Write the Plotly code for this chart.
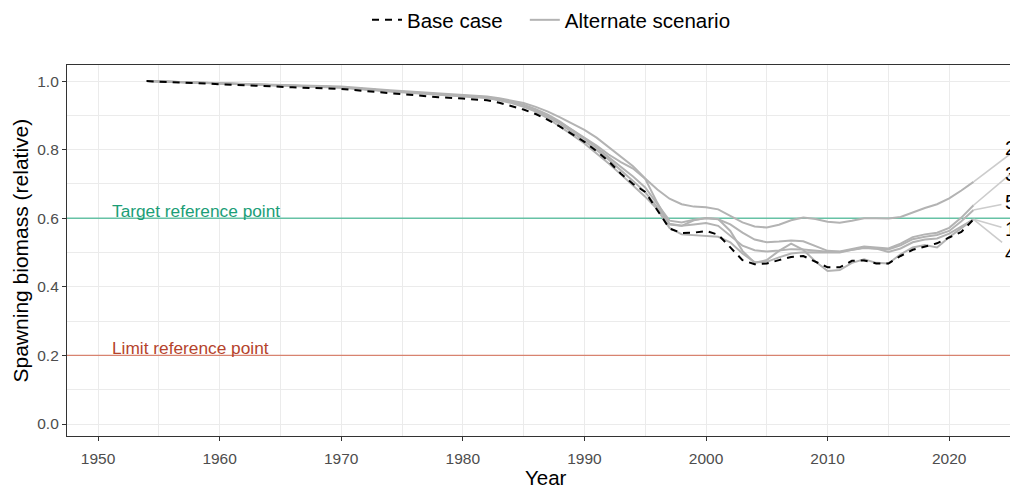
import plotly.graph_objects as go

years = [1954, 1960, 1966, 1970, 1974, 1978, 1980] + list(range(1982, 2023))

base_case = [1.000, 0.990, 0.982, 0.977, 0.964, 0.953, 0.949,
             0.944, 0.937, 0.928, 0.917, 0.904, 0.887, 0.867, 0.845, 0.823, 0.796,
             0.766, 0.730, 0.700, 0.677, 0.625, 0.570, 0.557, 0.558, 0.563, 0.552,
             0.515, 0.478, 0.466, 0.468, 0.478, 0.487, 0.490, 0.474, 0.457, 0.457,
             0.476, 0.477, 0.468, 0.468, 0.490, 0.508, 0.518, 0.527, 0.544, 0.560,
             0.597]

scenario_names = ["1", "2", "3", "4", "5"]
scenario_values = {
    "1": [1.000, 0.993, 0.988, 0.982, 0.971, 0.961, 0.958,
          0.952, 0.946, 0.939, 0.929, 0.916, 0.899, 0.880, 0.858, 0.836, 0.812,
          0.786, 0.764, 0.745, 0.715, 0.645, 0.582, 0.578, 0.594, 0.601, 0.598,
          0.563, 0.505, 0.470, 0.478, 0.505, 0.526, 0.508, 0.474, 0.446, 0.449,
          0.470, 0.480, 0.470, 0.468, 0.495, 0.515, 0.522, 0.515, 0.545, 0.570,
          0.597],
    "2": [1.000, 0.994, 0.989, 0.984, 0.973, 0.963, 0.960,
          0.955, 0.950, 0.944, 0.936, 0.925, 0.911, 0.894, 0.876, 0.858, 0.835,
          0.808, 0.781, 0.752, 0.716, 0.684, 0.657, 0.641, 0.634, 0.632, 0.626,
          0.608, 0.588, 0.576, 0.573, 0.581, 0.594, 0.602, 0.598, 0.590, 0.587,
          0.593, 0.600, 0.600, 0.599, 0.604, 0.618, 0.630, 0.641, 0.658, 0.681,
          0.706],
    "3": [1.000, 0.993, 0.988, 0.982, 0.971, 0.961, 0.958,
          0.953, 0.947, 0.940, 0.931, 0.918, 0.902, 0.882, 0.858, 0.832, 0.806,
          0.778, 0.750, 0.722, 0.690, 0.640, 0.593, 0.588, 0.596, 0.600, 0.597,
          0.582, 0.558, 0.538, 0.530, 0.532, 0.535, 0.533, 0.518, 0.505, 0.503,
          0.511, 0.518, 0.515, 0.512, 0.526, 0.545, 0.553, 0.558, 0.572, 0.602,
          0.638],
    "4": [1.000, 0.993, 0.987, 0.981, 0.970, 0.960, 0.957,
          0.951, 0.944, 0.936, 0.925, 0.911, 0.891, 0.868, 0.843, 0.818, 0.790,
          0.760, 0.728, 0.696, 0.663, 0.626, 0.572, 0.553, 0.551, 0.550, 0.546,
          0.530, 0.497, 0.472, 0.473, 0.486, 0.497, 0.501, 0.500, 0.499, 0.500,
          0.508, 0.515, 0.512, 0.502, 0.512, 0.530, 0.538, 0.541, 0.555, 0.575,
          0.597],
    "5": [1.000, 0.993, 0.988, 0.982, 0.971, 0.961, 0.958,
          0.952, 0.945, 0.938, 0.928, 0.914, 0.896, 0.875, 0.851, 0.826, 0.799,
          0.771, 0.741, 0.709, 0.676, 0.632, 0.584, 0.578, 0.582, 0.586, 0.578,
          0.548, 0.520, 0.507, 0.503, 0.506, 0.510, 0.509, 0.505, 0.502, 0.502,
          0.507, 0.513, 0.511, 0.509, 0.521, 0.539, 0.546, 0.551, 0.563, 0.591,
          0.624],
}
# value-axis positions of the scenario tags
label_values = {"1": 0.569, "2": 0.805, "3": 0.729, "4": 0.499, "5": 0.647}
# where each connector meets its tag
connector_end = {"1": (2024.3, 0.574), "2": (2025.0, 0.787), "3": (2025.0, 0.728),
                 "4": (2024.35, 0.530), "5": (2024.3, 0.640)}

target_ref = 0.6
limit_ref = 0.2

X_RANGE = [1947.45, 2025.0]
Y_RANGE = [-0.035, 1.047]

FONT = "Liberation Sans, Arial, Helvetica, sans-serif"
GRAY = "#B3B3B3"

fig = go.Figure()

# reference lines (drawn first: above the grid, below the series)
fig.add_trace(go.Scatter(x=X_RANGE, y=[target_ref, target_ref], mode="lines",
                         line=dict(color="#66C2A5", width=1.4),
                         showlegend=False, hoverinfo="skip"))
fig.add_trace(go.Scatter(x=X_RANGE, y=[limit_ref, limit_ref], mode="lines",
                         line=dict(color="#D8836F", width=1.4),
                         showlegend=False, hoverinfo="skip"))

for i, name in enumerate(scenario_names):
    fig.add_trace(go.Scatter(
        x=years, y=scenario_values[name], mode="lines",
        line=dict(color=GRAY, width=2),
        name="Alternate scenario", legendgroup="alt", showlegend=(i == 0),
        legendrank=2, hoverinfo="skip"))

for name in scenario_names:
    ex, ey = connector_end[name]
    fig.add_trace(go.Scatter(
        x=[years[-1], ex], y=[scenario_values[name][-1], ey], mode="lines",
        line=dict(color="#CCCCCC", width=1.6), showlegend=False, hoverinfo="skip"))

fig.add_trace(go.Scatter(
    x=years, y=base_case, mode="lines",
    line=dict(color="black", width=2, dash="7px,6px"),
    name="Base case\u00a0\u00a0\u00a0", legendrank=1))

fig.add_annotation(x=1951.0, y=target_ref, text="Target reference point",
                   xanchor="left", yanchor="bottom", showarrow=False, yshift=-5,
                   font=dict(family=FONT, size=17.3, color="#1B9E77"))
fig.add_annotation(x=1951.0, y=limit_ref, text="Limit reference point",
                   xanchor="left", yanchor="bottom", showarrow=False, yshift=-5,
                   font=dict(family=FONT, size=17.3, color="#B5432C"))

for name in scenario_names:
    fig.add_annotation(x=2024.4, y=label_values[name], text=name,
                       xanchor="left", yanchor="middle", showarrow=False,
                       font=dict(family=FONT, size=20, color="black"))

# axis titles
fig.add_annotation(xref="paper", yref="paper", x=(546 - 67) / 943, y=(436 - 477) / 371,
                   text="Year", showarrow=False, xanchor="center", yanchor="middle",
                   font=dict(family=FONT, size=20.5, color="black"))
fig.add_annotation(xref="paper", yref="paper", x=(20 - 67) / 943, y=0.5,
                   text="Spawning biomass (relative)", textangle=-90, showarrow=False,
                   xanchor="center", yanchor="middle",
                   font=dict(family=FONT, size=21, color="black"))

fig.update_layout(
    width=1010, height=490,
    margin=dict(l=67, r=0, t=65, b=54),
    paper_bgcolor="white", plot_bgcolor="white",
    font=dict(family=FONT, color="black"),
    legend=dict(orientation="h", x=(367 - 67) / 943, xanchor="left",
                y=1 + (65 - 20) / 371, yanchor="middle",
                font=dict(family=FONT, size=20.5, color="black"),
                bgcolor="rgba(0,0,0,0)", traceorder="normal"),
    showlegend=True,
)

fig.update_xaxes(
    range=X_RANGE, tickmode="linear", tick0=1950, dtick=10,
    showgrid=True, gridcolor="#EBEBEB", gridwidth=1.2,
    minor=dict(dtick=5, tick0=1955, showgrid=True, gridcolor="#EBEBEB", gridwidth=0.6),
    showline=True, linecolor="#333333", linewidth=1.2, mirror=True,
    ticks="outside", ticklen=4, tickcolor="#333333", tickwidth=1,
    ticklabelstandoff=4,
    tickfont=dict(family=FONT, size=15.5, color="#4D4D4D"),
    zeroline=False,
)
fig.update_yaxes(
    range=Y_RANGE, tickmode="linear", tick0=0, dtick=0.2, tickformat=".1f",
    showgrid=True, gridcolor="#EBEBEB", gridwidth=1.2,
    minor=dict(dtick=0.1, tick0=0.1, showgrid=True, gridcolor="#EBEBEB", gridwidth=0.6),
    showline=True, linecolor="#333333", linewidth=1.2, mirror=False,
    ticks="outside", ticklen=4, tickcolor="#333333", tickwidth=1,
    tickfont=dict(family=FONT, size=15.5, color="#4D4D4D"),
    zeroline=False,
)

fig.write_html("out.html")
